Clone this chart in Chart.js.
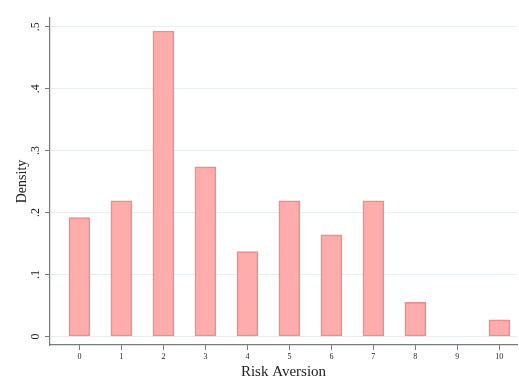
<!DOCTYPE html>
<html>
<head>
<meta charset="utf-8">
<script src="https://cdn.jsdelivr.net/npm/chart.js@4"></script>
<style>
  html, body { margin: 0; padding: 0; background: #fff; }
  #wrap { width: 519px; height: 381px; }
</style>
</head>
<body>
<div id="wrap"><canvas id="hist" width="519" height="381"></canvas></div>
<script>
// Risk aversion values and their density
const riskLevels = [0, 1, 2, 3, 4, 5, 6, 7, 8, 9, 10];
const densities = [0.192, 0.219, 0.493, 0.274, 0.137, 0.219, 0.164, 0.219, 0.055, 0, 0.027];
const yTicks = [0, 0.1, 0.2, 0.3, 0.4, 0.5];
const yTickLabels = ['0', '.1', '.2', '.3', '.4', '.5'];

const serif = '"Liberation Serif", "DejaVu Serif", serif';

// draw y tick labels rotated, the way Stata does it
const rotatedYLabels = {
    id: 'rotatedYLabels',
    afterDraw(chart) {
        const ctx = chart.ctx;
        const yScale = chart.scales.y;
        ctx.save();
        ctx.font = '12px ' + serif;
        ctx.fillStyle = '#222';
        ctx.textAlign = 'center';
        ctx.textBaseline = 'middle';
        yTicks.forEach((v, i) => {
            const py = yScale.getPixelForValue(v);
            ctx.save();
            ctx.translate(36, py);
            ctx.rotate(-Math.PI / 2);
            ctx.fillText(yTickLabels[i], 0, 0);
            ctx.restore();
        });
        ctx.restore();
    }
};

new Chart(document.getElementById('hist'), {
    type: 'bar',
    data: {
        datasets: [{
            label: 'Density',
            data: riskLevels.map((x, i) => ({ x: x, y: densities[i] })),
            backgroundColor: 'rgba(255, 168, 168, 0.95)',
            borderColor: 'rgba(240, 128, 128, 0.9)',
            borderWidth: 1.5,
            borderSkipped: false,
            barThickness: 21,
        }],
    },
    options: {
        responsive: false,
        animation: false,
        layout: { padding: { top: 18, right: 2, left: 0, bottom: 0 } },
        plugins: {
            legend: { display: false },
            tooltip: { enabled: false },
        },
        scales: {
            x: {
                type: 'linear',
                offset: false,
                min: -0.7,
                max: 10.42,
                afterBuildTicks: (scale) => {
                    scale.ticks = riskLevels.map(v => ({ value: v }));
                },
                afterFit: (scale) => { scale.height = 36; },
                grid: {
                    offset: false,
                    drawOnChartArea: false,
                    drawTicks: true,
                    tickLength: 5,
                    tickColor: '#7a7a7a',
                },
                border: { color: '#7a7a7a', width: 1.2 },
                ticks: {
                    font: { family: serif, size: 8 },
                    color: '#222',
                    padding: 2,
                    maxRotation: 0,
                },
                title: {
                    display: true,
                    text: 'Risk Aversion',
                    font: { family: serif, size: 15 },
                    color: '#222',
                    padding: { top: 0, bottom: 0 },
                },
            },
            y: {
                min: -0.0137,
                max: 0.514,
                afterBuildTicks: (scale) => {
                    scale.ticks = yTicks.map(v => ({ value: v }));
                },
                afterFit: (scale) => { scale.width = 50; },
                grid: {
                    color: '#e6eef0',
                    tickColor: '#7a7a7a',
                    tickLength: 5,
                    lineWidth: 1,
                },
                border: { color: '#7a7a7a', width: 1.2 },
                ticks: {
                    display: false,
                },
                title: {
                    display: true,
                    text: 'Density',
                    font: { family: serif, size: 14 },
                    color: '#222',
                    padding: { top: 14, bottom: 0 },
                },
            },
        },
    },
    plugins: [rotatedYLabels],
});
</script>
</body>
</html>
